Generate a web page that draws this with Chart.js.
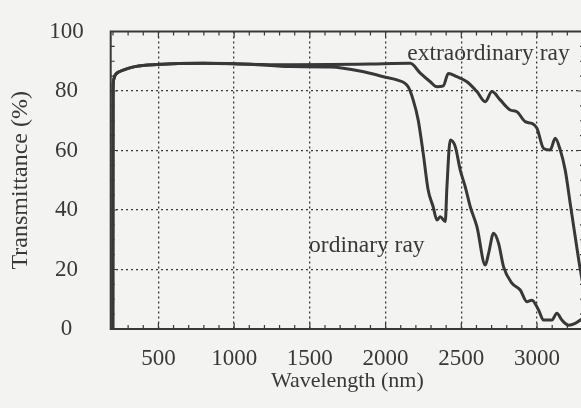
<!DOCTYPE html>
<html>
<head>
<meta charset="utf-8">
<script src="https://cdn.jsdelivr.net/npm/chart.js@4/dist/chart.umd.min.js"></script>
<style>
  html, body { margin: 0; padding: 0; background: #f3f3f2; overflow: hidden; }
  #wrap { width: 584px; height: 408px; }
</style>
</head>
<body>
<div id="wrap"><canvas id="transChart"></canvas></div>
<script>
// wavelength (nm) and transmittance (%) for both rays
const ordinaryNm = [199, 200, 201, 205, 214, 234, 267, 346, 491, 796, 1107, 1370, 1636, 1854, 1986, 2075, 2149, 2182, 2215, 2248, 2281, 2314, 2339, 2361, 2394, 2405, 2427, 2460, 2493, 2526, 2559, 2603, 2658, 2680, 2713, 2746, 2779, 2834, 2889, 2933, 2966, 3010, 3043, 3098, 3131, 3164, 3208, 3252, 3286, 3310]
const ordinaryT = [0, 40, 81.4, 84, 85.3, 86.3, 87, 88.2, 88.9, 89.3, 89, 88.2, 88.1, 86.5, 84.8, 83.7, 81.4, 77, 70.3, 59.2, 46.7, 41.1, 36.6, 37.7, 36.1, 47.8, 63.5, 61.3, 53.4, 47.8, 41.1, 34.4, 21.5, 25.4, 32.2, 28.8, 20.9, 15.4, 13.1, 9.2, 9.7, 6.4, 3, 3, 5.3, 3, 1.3, 1.9, 3, 4]

const extraNm = [199, 200, 201, 205, 214, 234, 267, 346, 491, 796, 1107, 1370, 1636, 1900, 2163, 2229, 2295, 2339, 2381, 2414, 2471, 2537, 2603, 2658, 2702, 2757, 2823, 2867, 2922, 2966, 2999, 3043, 3087, 3120, 3153, 3186, 3219, 3252, 3286, 3310]
const extraT = [0, 40, 81.4, 84, 85.3, 86.3, 87, 88.2, 88.9, 89.3, 89, 88.8, 88.9, 89.1, 89.3, 86, 83.1, 81.4, 81.7, 85.9, 84.8, 83.1, 79.8, 76.4, 79.8, 77, 73.6, 73, 69.7, 69.1, 67.5, 60.7, 60.2, 64.1, 60.2, 53.4, 42.2, 31, 19.8, 13]

const xTicks = [500, 1000, 1500, 2000, 2500, 3000]
const yTicks = [0, 20, 40, 60, 80, 100]

// curve labels, placed in data units
const curveLabels = [
    { text: 'extraordinary ray', x: 2143, y: 92.4 },
    { text: 'ordinary ray', x: 1495, y: 27.9 }
]

const ink = '#383838'
const serif = 'Liberation Serif'

const toPoints = (xs, ys) => xs.map((x, i) => ({ x: x, y: ys[i] }))

// frame, inward ticks and curve labels
const framePlugin = {
    id: 'frame',
    afterDatasetsDraw(chart) {
        const { ctx, chartArea: a, scales: { x, y } } = chart
        ctx.save()
        ctx.strokeStyle = ink
        ctx.lineWidth = 1.2
        for (let v = 200; v <= 3300; v += 100) {
            const px = x.getPixelForValue(v)
            const len = v % 500 === 0 ? 6 : 4
            ctx.beginPath()
            ctx.moveTo(px, a.bottom); ctx.lineTo(px, a.bottom - len)
            ctx.moveTo(px, a.top); ctx.lineTo(px, a.top + len)
            ctx.stroke()
        }
        for (let v = 5; v < 100; v += 5) {
            const py = y.getPixelForValue(v)
            const len = v % 20 === 0 ? 6 : 4
            ctx.beginPath()
            ctx.moveTo(a.left, py); ctx.lineTo(a.left + len, py)
            ctx.moveTo(a.right, py); ctx.lineTo(a.right - len, py)
            ctx.stroke()
        }
        ctx.lineWidth = 2
        ctx.strokeRect(a.left, a.top, a.right - a.left, a.bottom - a.top)

        ctx.fillStyle = ink
        ctx.font = `23.5px "${serif}"`
        ctx.textBaseline = 'middle'
        ctx.textAlign = 'left'
        curveLabels.forEach(l => {
            ctx.fillText(l.text, x.getPixelForValue(l.x), y.getPixelForValue(l.y))
        })
        ctx.restore()
    }
}

const lineStyle = {
    borderColor: ink,
    borderWidth: 3,
    pointRadius: 0,
    fill: false,
    tension: 0.3,
    cubicInterpolationMode: 'monotone'
}

new Chart(document.getElementById('transChart'), {
    type: 'line',
    data: {
        datasets: [
            { label: 'ordinary ray', data: toPoints(ordinaryNm, ordinaryT), ...lineStyle },
            { label: 'extraordinary ray', data: toPoints(extraNm, extraT), ...lineStyle }
        ]
    },
    options: {
        responsive: true,
        maintainAspectRatio: false,
        animation: false,
        layout: { padding: { top: 31.5, left: 0, right: 0, bottom: 0 } },
        plugins: { legend: { display: false }, tooltip: { enabled: false } },
        scales: {
            x: {
                type: 'linear',
                min: 185,
                max: 3310,
                afterBuildTicks: s => { s.ticks = xTicks.map(v => ({ value: v })) },
                afterFit: s => { s.height = 79; s.paddingLeft = 0; s.paddingRight = 0 },
                border: { display: false, dash: [2, 3] },
                grid: { color: ink, lineWidth: 1.3, drawTicks: false },
                ticks: {
                    padding: 16,
                    autoSkip: false,
                    maxRotation: 0,
                    color: ink,
                    font: { family: serif, size: 23 },
                    callback: v => String(v)
                },
                title: {
                    display: true,
                    text: 'Wavelength (nm)',
                    color: ink,
                    font: { family: serif, size: 22 },
                    padding: { top: 0, bottom: 14 }
                }
            },
            y: {
                min: 0,
                max: 100,
                afterBuildTicks: s => { s.ticks = yTicks.map(v => ({ value: v })) },
                afterFit: s => { s.width = 110.7; s.paddingTop = 0; s.paddingBottom = 0 },
                border: { display: false, dash: [2, 3] },
                grid: {
                    color: c => (c.tick.value === 0 || c.tick.value === 100) ? 'rgba(0,0,0,0)' : ink,
                    lineWidth: 1.3,
                    drawTicks: false
                },
                ticks: {
                    padding: 27,
                    crossAlign: 'center',
                    color: ink,
                    font: { family: serif, size: 23 },
                    callback: v => String(v)
                },
                title: {
                    display: true,
                    text: 'Transmittance (%)',
                    color: ink,
                    font: { family: serif, size: 24 },
                    padding: { top: 6.5, bottom: 0 }
                }
            }
        }
    },
    plugins: [framePlugin]
})
</script>
</body>
</html>
